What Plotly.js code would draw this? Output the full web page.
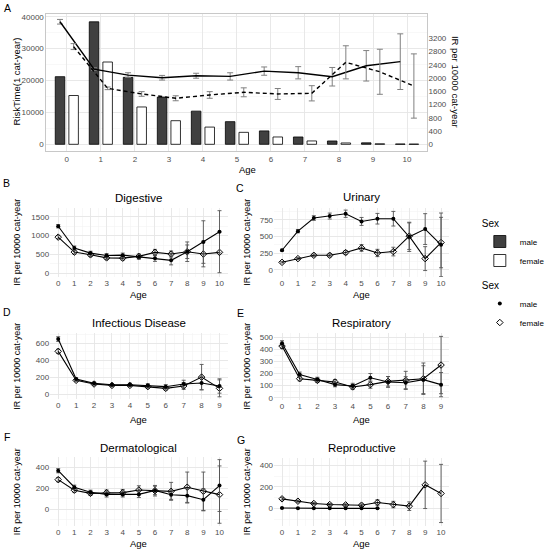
<!DOCTYPE html>
<html><head><meta charset="utf-8">
<script src="https://cdn.plot.ly/plotly-3.0.1.min.js"></script>
<style>html,body{margin:0;padding:0;background:#fff}#plot{width:550px;height:554px}</style>
</head><body><div id="plot"></div>
<script>
// ---------------- data ----------------
const ages = [0,1,2,3,4,5,6,7,8,9,10];
const ages9 = [0,1,2,3,4,5,6,7,8,9];
const ages6 = [0,1,2,3,4,5,6];

// Panel A: risk time (bars) and overall IR (lines)
const riskMale   = [21200, 38400, 21000, 14800, 10400, 7100, 4200, 2300, 1040, 450, 100];
const riskFemale = [15300, 25800, 11700, 7400, 5400, 3750, 2300, 1050, 420, 150, 60];
const irMale      = [3700, 2270, 2090, 2010, 2070, 2050, 2210, 2160, 2040, 2370, 2495];
const irMaleErr   = [70, 40, 70, 70, 75, 110, 125, 185, 280, 460, 840];
const irFemale    = [2950, 1690, 1520, 1390, 1490, 1570, 1520, 1540, 2475, 2190, 1760];
const irFemaleErr = [90, 40, 70, 75, 100, 135, 165, 230, 500, 680, 970];

// B Digestive
const digMale      = [1250, 670, 536, 473, 482, 440, 397, 344, 573, 830, 1103];
const digMaleErr   = [45, 55, 50, 50, 55, 65, 80, 120, 260, 565, 560];
const digFemale    = [960, 563, 491, 410, 402, 450, 556, 512, 573, 512, 556];
const digFemaleErr = [40, 50, 45, 45, 50, 60, 80, 80, 180, 340, 540];
// C Urinary
const urMale      = [293, 581, 778, 808, 843, 727, 768, 768, 495, 612, 374];
const urMaleErr   = [15, 25, 35, 45, 55, 60, 80, 110, 220, 232, 480];
const urFemale    = [111, 167, 217, 217, 258, 328, 252, 273, 505, 167, 409];
const urFemaleErr = [10, 15, 20, 25, 30, 50, 55, 65, 200, 180, 380];
// D Infectious Disease
const infMale      = [650, 177, 126, 110, 110, 102, 87, 118, 130, 95];
const infMaleErr   = [28, 15, 15, 15, 18, 20, 25, 45, 80, 85];
const infFemale    = [505, 162, 118, 102, 102, 87, 67, 95, 200, 67];
const infFemaleErr = [25, 15, 15, 15, 15, 18, 20, 40, 150, 100];
// E Respiratory
const respMale      = [451, 192, 151, 108, 97, 165, 130, 124, 149, 108];
const respMaleErr   = [20, 20, 18, 18, 22, 35, 45, 50, 115, 100];
const respFemale    = [427, 157, 143, 130, 89, 108, 135, 143, 157, 270];
const respFemaleErr = [20, 18, 18, 20, 20, 30, 40, 75, 130, 237];
// F Dermatological
const dermMale      = [365, 208, 160, 140, 140, 140, 178, 137, 128, 89, 224];
const dermMaleErr   = [20, 20, 20, 25, 25, 30, 40, 45, 70, 105, 246];
const dermFemale    = [280, 180, 150, 157, 157, 182, 175, 169, 208, 170, 138];
const dermFemaleErr = [20, 20, 20, 25, 30, 40, 50, 85, 144, 182, 272];
// G Reproductive
const repMale      = [5, 2, 2, 2, 2, 2, 2];
const repMaleErr   = [4, 2, 2, 2, 2, 2, 2];
const repFemale    = [90, 68, 47, 37, 34, 31, 56, 37, 22, 220, 140];
const repFemaleErr = [12, 10, 10, 10, 10, 12, 25, 30, 40, 220, 270];

const sexLabels = ['male', 'female'];
const panelTitles = ['Digestive', 'Urinary', 'Infectious Disease', 'Respiratory', 'Dermatological', 'Reproductive'];
const yTitleIR = 'IR per 10000 cat-year';
const yTitleRisk = 'RiskTime(1 cat-year)';
const xTitle = 'Age';
const legendTitle = 'Sex';

// ---------------- layout helpers ----------------
const W = 550, H = 554;
const FONT = 'Liberation Sans, Arial, Helvetica, sans-serif';
const px = v => v / W;
const py = v => 1 - v / H;
const tickFont = {family: FONT, size: 8, color: '#4d4d4d'};
const GRID = '#e6e6e6', MINOR = '#f2f2f2';
const dodge = 0.2;

function xAxis(x0, x1, range, anchor) {
  return {domain: [px(x0), px(x1)], range: range, anchor: anchor,
    tickmode: 'linear', tick0: 0, dtick: 1, ticks: '', tickfont: tickFont,
    showgrid: true, gridcolor: GRID, gridwidth: 0.9,
    minor: {dtick: 0.5, tick0: 0, showgrid: true, gridcolor: MINOR, gridwidth: 0.5},
    zeroline: false, showline: false, fixedrange: true};
}
function yAxis(y0, y1, range, dtick, anchor) {
  return {domain: [py(y1), py(y0)], range: range, anchor: anchor,
    tickmode: 'linear', tick0: 0, dtick: dtick, ticks: '', tickfont: tickFont,
    showgrid: true, gridcolor: GRID, gridwidth: 0.9,
    minor: {dtick: dtick / 2, tick0: 0, showgrid: true, gridcolor: MINOR, gridwidth: 0.5},
    zeroline: false, showline: false, fixedrange: true, tickformat: 'd'};
}

const traces = [];

// Panel A bars
traces.push({type: 'bar', x: ages, y: riskMale, name: sexLabels[0], xaxis: 'x', yaxis: 'y',
  width: 0.28, offset: -0.34, marker: {color: '#404040', line: {color: '#000', width: 0.8}},
  legend: 'legend', showlegend: true});
traces.push({type: 'bar', x: ages, y: riskFemale, name: sexLabels[1], xaxis: 'x', yaxis: 'y',
  width: 0.28, offset: 0.06, marker: {color: '#ffffff', line: {color: '#000', width: 0.8}},
  legend: 'legend', showlegend: true});
// Panel A lines
traces.push({type: 'scatter', mode: 'lines', x: ages.map(a => a - dodge), y: irMale, xaxis: 'x', yaxis: 'y8',
  line: {color: '#000', width: 1.4}, showlegend: false,
  error_y: {type: 'data', array: irMaleErr, color: '#808080', thickness: 1, width: 3}});
traces.push({type: 'scatter', mode: 'lines', x: ages.map(a => a + dodge), y: irFemale, xaxis: 'x', yaxis: 'y8',
  line: {color: '#000', width: 1.4, dash: '4px,3px'}, showlegend: false,
  error_y: {type: 'data', array: irFemaleErr, color: '#808080', thickness: 1, width: 3}});

// Panels B-G
const panels = [
  {ax: '2', mAges: ages, m: digMale, mE: digMaleErr, fAges: ages, f: digFemale, fE: digFemaleErr},
  {ax: '3', mAges: ages, m: urMale, mE: urMaleErr, fAges: ages, f: urFemale, fE: urFemaleErr},
  {ax: '4', mAges: ages9, m: infMale, mE: infMaleErr, fAges: ages9, f: infFemale, fE: infFemaleErr},
  {ax: '5', mAges: ages9, m: respMale, mE: respMaleErr, fAges: ages9, f: respFemale, fE: respFemaleErr},
  {ax: '6', mAges: ages, m: dermMale, mE: dermMaleErr, fAges: ages, f: dermFemale, fE: dermFemaleErr},
  {ax: '7', mAges: ages6, m: repMale, mE: repMaleErr, fAges: ages, f: repFemale, fE: repFemaleErr},
];
const errStyle = arr => ({type: 'data', array: arr, color: '#555555', thickness: 0.9, width: 2});
const femaleMarker = {symbol: 'diamond-open', size: 5, color: '#000', line: {width: 1, color: '#000'}};
const maleMarker = {symbol: 'circle', size: 4, color: '#000'};
panels.forEach(p => {
  traces.push({type: 'scatter', mode: 'lines+markers', x: p.fAges, y: p.f, xaxis: 'x' + p.ax, yaxis: 'y' + p.ax,
    line: {color: '#000', width: 1.1}, marker: femaleMarker, error_y: errStyle(p.fE), showlegend: false});
  traces.push({type: 'scatter', mode: 'lines+markers', x: p.mAges, y: p.m, xaxis: 'x' + p.ax, yaxis: 'y' + p.ax,
    line: {color: '#000', width: 1.1}, marker: maleMarker, error_y: errStyle(p.mE), showlegend: false});
});
// legend-only marker keys
traces.push({type: 'scatter', mode: 'markers', x: [null], y: [null], xaxis: 'x2', yaxis: 'y2', name: sexLabels[0],
  marker: maleMarker, legend: 'legend2', showlegend: true});
traces.push({type: 'scatter', mode: 'markers', x: [null], y: [null], xaxis: 'x2', yaxis: 'y2', name: sexLabels[1],
  marker: femaleMarker, legend: 'legend2', showlegend: true});

// ---------------- layout ----------------
const L = {x0: 50.8, x1: 230.5}, R = {x0: 277.6, x1: 454.8};
const layout = {
  width: W, height: H, margin: {l: 0, r: 0, t: 0, b: 0},
  paper_bgcolor: '#fff', plot_bgcolor: 'rgba(0,0,0,0)',
  font: {family: FONT, color: '#000'},
  barmode: 'overlay',
  xaxis: {domain: [px(47), px(433)], range: [-0.6, 10.6], anchor: 'y', tickmode: 'linear', tick0: 0, dtick: 1,
    ticks: '', tickfont: tickFont, showgrid: true, gridcolor: GRID, gridwidth: 0.9, zeroline: false,
    showline: true, mirror: true, linecolor: '#c8c8c8', linewidth: 1, fixedrange: true},
  yaxis: {domain: [py(151), py(14)], range: [-2100, 40850], anchor: 'x', tickmode: 'linear', tick0: 0, dtick: 10000,
    tickformat: 'd', ticks: '', tickfont: tickFont, showgrid: true, gridcolor: GRID, gridwidth: 0.9,
    minor: {dtick: 5000, tick0: 0, showgrid: true, gridcolor: MINOR, gridwidth: 0.5},
    zeroline: false, showline: true, mirror: true, linecolor: '#c8c8c8', linewidth: 1, fixedrange: true},
  yaxis8: {overlaying: 'y', side: 'right', anchor: 'x', range: [-202, 3934],
    tickvals: [0, 400, 800, 1200, 1600, 2000, 2400, 2800, 3200], tickformat: 'd', ticks: '', tickfont: tickFont,
    showgrid: false, zeroline: false, fixedrange: true},
  xaxis2: xAxis(L.x0, L.x1, [-0.5, 10.5], 'y2'),
  yaxis2: yAxis(207.7, 277, [-98, 1742], 500, 'x2'),
  xaxis3: xAxis(R.x0, R.x1, [-0.5, 10.5], 'y3'),
  yaxis3: yAxis(207.7, 277, [-110, 934], 250, 'x3'),
  xaxis4: xAxis(L.x0, L.x1, [-0.45, 9.45], 'y4'),
  yaxis4: yAxis(333, 398.5, [-53, 722], 200, 'x4'),
  xaxis5: xAxis(R.x0, R.x1, [-0.45, 9.45], 'y5'),
  yaxis5: yAxis(333, 399.5, [-15, 535], 100, 'x5'),
  xaxis6: xAxis(L.x0, L.x1, [-0.5, 10.5], 'y6'),
  yaxis6: yAxis(457, 526, [-160, 495], 200, 'x6'),
  xaxis7: xAxis(R.x0, R.x1, [-0.5, 10.5], 'y7'),
  yaxis7: yAxis(458, 526, [-162, 469], 200, 'x7'),
  legend: {title: {text: legendTitle, font: {size: 10, family: FONT}}, x: px(486), y: py(214), xanchor: 'left', yanchor: 'top',
    font: {size: 8, family: FONT}, bgcolor: 'rgba(0,0,0,0)', traceorder: 'normal'},
  legend2: {title: {text: legendTitle, font: {size: 10, family: FONT}}, x: px(486), y: py(276), xanchor: 'left', yanchor: 'top',
    font: {size: 8, family: FONT}, bgcolor: 'rgba(0,0,0,0)', traceorder: 'normal'},
  annotations: []
};

function ann(text, x, y, size, angle) {
  layout.annotations.push({text: text, x: px(x), y: py(y), xref: 'paper', yref: 'paper', showarrow: false,
    xanchor: 'center', yanchor: 'middle', textangle: angle || 0, font: {family: FONT, size: size, color: '#000'}});
}
// panel letters
[['A', 8, 8], ['B', 7, 183], ['C', 243, 188], ['D', 7, 312], ['E', 244, 313], ['F', 7, 437], ['G', 244, 440]]
  .forEach(a => ann(a[0], a[1], a[2], 10.5));
// panel titles
const titlePos = [[140.5, 197.7], [366.2, 197], [140.5, 322.7], [366.2, 322.7], [140.5, 447.7], [366.2, 447.7]];
panelTitles.forEach((t, i) => ann(t, titlePos[i][0], titlePos[i][1], 11.5));
// axis titles
ann(yTitleRisk, 15.7, 82, 9.5, -90);
ann(yTitleIR, 462, 82, 9.5, 90);
ann(xTitle, 251, 169, 9.5);
[[17, 242], [250, 242], [17, 366], [250, 366], [17, 491.5], [250, 491.5]].forEach(p => ann(yTitleIR, p[0], p[1], 9, -90));
[[140.5, 294], [366, 294], [140.5, 419], [366, 419], [140.5, 543], [366, 543]].forEach(p => ann(xTitle, p[0], p[1], 9.5));

Plotly.newPlot('plot', traces, layout, {staticPlot: true, displayModeBar: false});
</script>
</body></html>
